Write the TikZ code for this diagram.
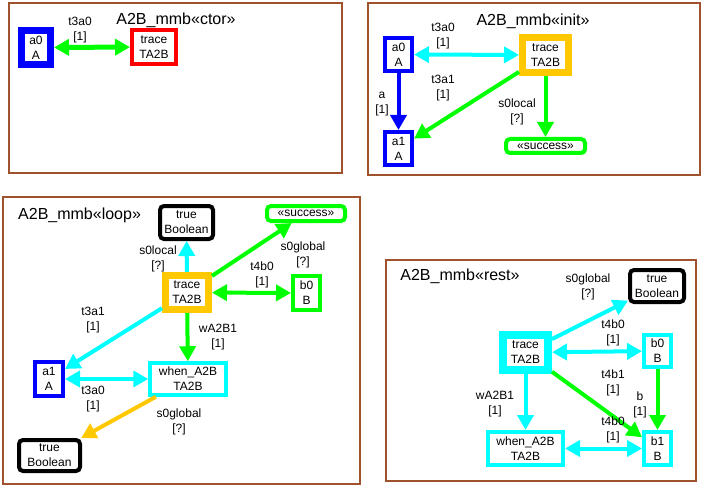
\documentclass[tikz,border=0pt]{standalone}
\usepackage{fontspec}
\setmainfont{Liberation Sans}
\usetikzlibrary{arrows.meta}
\definecolor{frm}{RGB}{160,82,45}
\definecolor{gld}{RGB}{255,200,0}
\definecolor{grn}{RGB}{0,255,0}
\definecolor{cyn}{RGB}{0,255,255}
\definecolor{blu}{RGB}{0,0,255}
\newcommand\lblfont{\fontsize{12}{15}\selectfont}
\newcommand\ttlfont{\fontsize{16}{19}\selectfont}
\begin{document}
\begin{tikzpicture}[x=1pt,y=-1pt,
  box/.style={draw, fill=white, align=center, font=\lblfont, inner sep=0pt},
  rbox/.style={box, rounded corners=4pt},
  lab/.style={align=center, font=\lblfont, inner sep=0pt},
  ttl/.style={font=\ttlfont, inner sep=0pt},
  one/.style={-{Triangle[length=15pt,width=16pt]}, line width=4pt},
  two/.style={{Triangle[length=15pt,width=16pt]}-{Triangle[length=15pt,width=16pt]}, line width=4pt},
  panel/.style={draw=frm, line width=2pt},
]
\useasboundingbox (0,0) rectangle (706,489);
\draw[panel] (9,3) rectangle (342,173);
\draw[panel] (368,3) rectangle (700,175);
\draw[panel] (3,197) rectangle (360,484);
\draw[panel] (386,260) rectangle (696,481);

\node[ttl] (t1) at (176,20) {A2B\_mmb«ctor»};
\node[box, draw=blu, line width=7pt, minimum width=29pt, minimum height=34pt] (c-a0) at (36,47.5) {a0\\A};
\node[box, draw=red, line width=4pt, minimum width=44pt, minimum height=34pt] (c-tr) at (154,47) {trace\\TA2B};
\draw[two, grn, line width=5pt] (c-a0) -- (c-tr);
\node[lab] (c-l1) at (80,30) {t3a0\\{[1]}};

\node[ttl] (t2) at (533,21) {A2B\_mmb«init»};
\node[box, draw=blu, line width=4pt, minimum width=27pt, minimum height=33pt] (i-a0) at (398.5,54.5) {a0\\A};
\node[box, draw=gld, line width=7pt, minimum width=46pt, minimum height=35pt] (i-tr) at (545.5,55) {trace\\TA2B};
\node[box, draw=blu, line width=4pt, minimum width=27pt, minimum height=33pt] (i-a1) at (398.5,148.5) {a1\\A};
\node[rbox, draw=grn, line width=4pt, minimum width=79pt, minimum height=14pt] (i-ok) at (545.5,146) {«success»};
\draw[two, cyn] (i-a0) -- (i-tr);
\draw[one, blu] (i-a0) -- (i-a1);
\draw[one, grn] (i-tr) -- (i-a1);
\draw[one, grn] (i-tr) -- (i-ok);
\node[lab] (i-l1) at (443,36) {t3a0\\{[1]}};
\node[lab] (i-l2) at (382,104.5) {a\\{[1]}};
\node[lab] (i-l3) at (443,88) {t3a1\\{[1]}};
\node[lab] (i-l4) at (517,111.5) {s0local\\{[?]}};

\node[ttl, anchor=west] (t3) at (18,215) {A2B\_mmb«loop»};
\node[rbox, draw=black, line width=4pt, minimum width=53pt, minimum height=33pt] (l-bt) at (186.5,222.5) {true\\Boolean};
\node[rbox, draw=grn, line width=4pt, minimum width=78pt, minimum height=15pt] (l-ok) at (306,213.5) {«success»};
\node[box, draw=gld, line width=7pt, minimum width=43pt, minimum height=34pt] (l-tr) at (187,292.5) {trace\\TA2B};
\node[box, draw=grn, line width=4pt, minimum width=27pt, minimum height=34pt] (l-b0) at (306.5,293) {b0\\B};
\node[box, draw=blu, line width=4pt, minimum width=28pt, minimum height=34pt] (l-a1) at (49,379) {a1\\A};
\node[box, draw=cyn, line width=3.5pt, minimum width=76pt, minimum height=32pt] (l-wh) at (188,379) {when\_A2B\\TA2B};
\node[rbox, draw=black, line width=4pt, minimum width=61pt, minimum height=31pt] (l-bb) at (49.5,455.5) {true\\Boolean};
\draw[one, cyn] (l-tr) -- (l-bt);
\draw[one, grn] (l-tr) -- (l-ok);
\draw[two, grn] (l-tr) -- (l-b0);
\draw[one, cyn] (l-tr) -- (l-a1);
\draw[one, grn] (l-tr) -- (l-wh);
\draw[two, cyn] (l-a1) -- (l-wh);
\draw[one, gld] (l-wh) -- (l-bb);
\node[lab] (l-l1) at (158,259) {s0local\\{[?]}};
\node[lab] (l-l2) at (303,255) {s0global\\{[?]}};
\node[lab] (l-l3) at (262,274.5) {t4b0\\{[1]}};
\node[lab] (l-l4) at (93,320.5) {t3a1\\{[1]}};
\node[lab] (l-l5) at (218,337.5) {wA2B1\\{[1]}};
\node[lab] (l-l6) at (93,399.5) {t3a0\\{[1]}};
\node[lab] (l-l7) at (179,422) {s0global\\{[?]}};

\node[ttl] (t4) at (460,276) {A2B\_mmb«rest»};
\node[rbox, draw=black, line width=4pt, minimum width=54pt, minimum height=32pt] (r-bt) at (657,286) {true\\Boolean};
\node[box, draw=cyn, line width=8pt, minimum width=45pt, minimum height=35pt] (r-tr) at (525.5,352.5) {trace\\TA2B};
\node[box, draw=cyn, line width=4pt, minimum width=27pt, minimum height=32pt] (r-b0) at (657.5,351) {b0\\B};
\node[box, draw=cyn, line width=4pt, minimum width=75pt, minimum height=33pt] (r-wh) at (525.5,448.5) {when\_A2B\\TA2B};
\node[box, draw=cyn, line width=4pt, minimum width=27pt, minimum height=33pt] (r-b1) at (657.5,448.5) {b1\\B};
\draw[one, cyn] (r-tr) -- (r-bt);
\draw[two, cyn] (r-tr) -- (r-b0);
\draw[one, grn] (r-tr) -- (r-b1);
\draw[one, grn] (r-b0) -- (r-b1);
\draw[one, cyn] (r-tr) -- (r-wh);
\draw[two, cyn] (r-wh) -- (r-b1);
\node[lab] (r-l1) at (588,286.5) {s0global\\{[?]}};
\node[lab] (r-l2) at (613,332.5) {t4b0\\{[1]}};
\node[lab] (r-l3) at (613,382.5) {t4b1\\{[1]}};
\node[lab] (r-l4) at (640,404.5) {b\\{[1]}};
\node[lab] (r-l5) at (495,404.5) {wA2B1\\{[1]}};
\node[lab] (r-l6) at (613,429.5) {t4b0\\{[1]}};
\end{tikzpicture}
\end{document}
